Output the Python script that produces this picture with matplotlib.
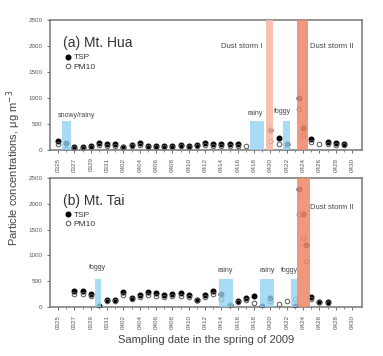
import matplotlib
matplotlib.use("Agg")
import matplotlib.pyplot as plt
import numpy as np

plt.rcParams['font.family'] = ['Liberation Sans', 'DejaVu Sans']

# days counted from 0325 (day 0) to 0430 (day 36)
tick_days = np.arange(0, 37, 2)
tick_labels = ['0325', '0327', '0329', '0331', '0402', '0404', '0406', '0408', '0410',
               '0412', '0414', '0416', '0418', '0420', '0422', '0424', '0426', '0428', '0430']

# (a) Mt. Hua
hua_day = [0, 1, 2, 3, 4, 5, 6, 7, 8, 9, 10, 11, 12, 13, 14, 15, 16, 17, 18, 19, 20, 21, 22, 23,
           26, 27, 28, 29.45, 30.0, 31, 32, 33, 34, 35]
hua_tsp = [180, 140, 60, 65, 85, 130, 115, 115, 65, 95, 130, 85, 85, 85, 85, 95, 77, 96, 140, 115, 115, 110, 110, np.nan,
           380, 230, 110, 1000, 420, 220, np.nan, 160, 130, 115]
hua_pm10 = [115, 20, 40, 45, 60, 95, 85, 85, 50, 70, 95, 65, 65, 65, 65, 70, 60, 75, 100, 85, 85, 80, 80, 70,
            180, 115, 40, 790, 290, 160, 110, 120, 105, 95]
hua_wx_day = [1, 24.3, 28]
hua_wx_width = [1.1, 1.7, 0.9]
hua_wx_height = [550, 550, 550]
hua_wx_label = ['snowy/rainy', 'rainy', 'foggy']
hua_wx_text_x = [-0.1, 24.1, 27.5]
hua_wx_text_y = [600, 630, 670]
hua_dust_day = [25.9, 29.9]
hua_dust_width = [0.8, 1.4]
hua_dust_color = ['#f5b9a3', '#ef8a6b']

# (b) Mt. Tai
tai_day = [2, 3, 4, 5, 6, 7, 8, 9, 10, 11, 12, 13, 14, 15, 16, 17, 18, 19, 20, 21, 22, 23, 24, 25,
           26, 27, 28, 29, 29.45, 29.95, 30.4, 31, 32, 33]
tai_tsp = [320, 320, 260, 10, 140, 140, 300, 175, 235, 290, 270, 240, 260, 265, 240, 145, 230, 310, 250, 40, 110, 170, 210, 10,
           170, np.nan, np.nan, 10, 2280, 1810, 1200, 195, 100, 100]
tai_pm10 = [260, 255, 215, np.nan, 125, 125, 230, 150, 200, 235, 220, 200, 220, 220, 200, 130, 200, 250, 150, 30, 90, 140, 75, np.nan,
            120, 60, 110, 150, 1810, 1340, 890, 160, 90, 85]
tai_wx_day = [4.9, 20.55, 25.55, 28.85]
tai_wx_width = [0.7, 1.7, 1.7, 0.7]
tai_wx_height = [550, 540, 540, 540]
tai_wx_label = ['foggy', 'rainy', 'rainy', 'foggy']
tai_wx_text_x = [4.8, 20.4, 25.6, 28.3]
tai_wx_text_y = [690, 640, 640, 640]
tai_dust_day = [30.0]
tai_dust_width = [1.6]
tai_dust_color = ['#ef8a6b']

fig = plt.figure(figsize=(3.83, 3.56), dpi=100)
ax1 = fig.add_axes([0.1305, 0.5787, 0.8145, 0.3651])
ax2 = fig.add_axes([0.1305, 0.1376, 0.8145, 0.3624])


def panel(ax, title, day, tsp, pm10, wx_day, wx_w, wx_h, wx_lab, wx_tx, wx_ty, d_day, d_w, d_col):
    ax.plot(day, tsp, 'o', color='black', ms=3.3, ls='none', label='TSP', zorder=2)
    ax.plot(day, pm10, 'o', mfc='none', mec='#555555', mew=0.7, ms=3.3, ls='none', label='PM10', zorder=2)
    ax.bar(wx_day, wx_h, width=wx_w, color='#95d3f2', alpha=0.8, zorder=3)
    ax.bar(d_day, 2500, width=d_w, color=d_col, alpha=0.88, zorder=3)
    for x, y, s in zip(wx_tx, wx_ty, wx_lab):
        ha = 'left' if s == 'snowy/rainy' else 'center'
        ax.text(x, y, s, fontsize=5, color='#444444', ha=ha, va='bottom', zorder=4)
    ax.set_xlim(-1, 37.2)
    ax.set_ylim(0, 2500)
    ax.set_yticks(np.arange(0, 2501, 500))
    ax.set_xticks(tick_days)
    ax.set_xticklabels(tick_labels, rotation=90)
    ax.set_xticks(np.arange(0, 37, 1), minor=True)
    ax.tick_params(axis='both', labelsize=4.5, colors='#555555', length=2, width=0.6)
    ax.tick_params(axis='x', which='minor', length=1.5, width=0.5, colors='#555555')
    for sp in ax.spines.values():
        sp.set_color('#777777')
        sp.set_linewidth(1.1)
    ax.text(0.042, 0.82, title, transform=ax.transAxes, fontsize=10, color='#333333', va='center')
    ax.legend(loc='upper left', bbox_to_anchor=(0.035, 0.78), frameon=False, fontsize=6,
              handlelength=0.6, handletextpad=0.3, labelspacing=0.15, borderpad=0.1,
              labelcolor='#333333')


panel(ax1, '(a) Mt. Hua', hua_day, hua_tsp, hua_pm10, hua_wx_day, hua_wx_width, hua_wx_height,
      hua_wx_label, hua_wx_text_x, hua_wx_text_y, hua_dust_day, hua_dust_width, hua_dust_color)
panel(ax2, '(b) Mt. Tai', tai_day, tai_tsp, tai_pm10, tai_wx_day, tai_wx_width, tai_wx_height,
      tai_wx_label, tai_wx_text_x, tai_wx_text_y, tai_dust_day, tai_dust_width, tai_dust_color)

ax1.text(25.0, 2000, 'Dust storm I', fontsize=5.5, color='#444444', ha='right', va='center', zorder=4)
ax1.text(30.9, 2000, 'Dust storm II', fontsize=5.5, color='#444444', ha='left', va='center', zorder=4)
ax2.text(30.9, 1920, 'Dust storm II', fontsize=5.5, color='#444444', ha='left', va='center', zorder=4)

fig.text(0.035, 0.53, 'Particle concentrations, \u03bcg m$^{-3}$', rotation=90, fontsize=8,
         color='#444444', ha='center', va='center')
fig.text(0.538, 0.045, 'Sampling date in the spring of 2009', fontsize=8, color='#444444',
         ha='center', va='center')

fig.savefig('out.png', dpi=100)
